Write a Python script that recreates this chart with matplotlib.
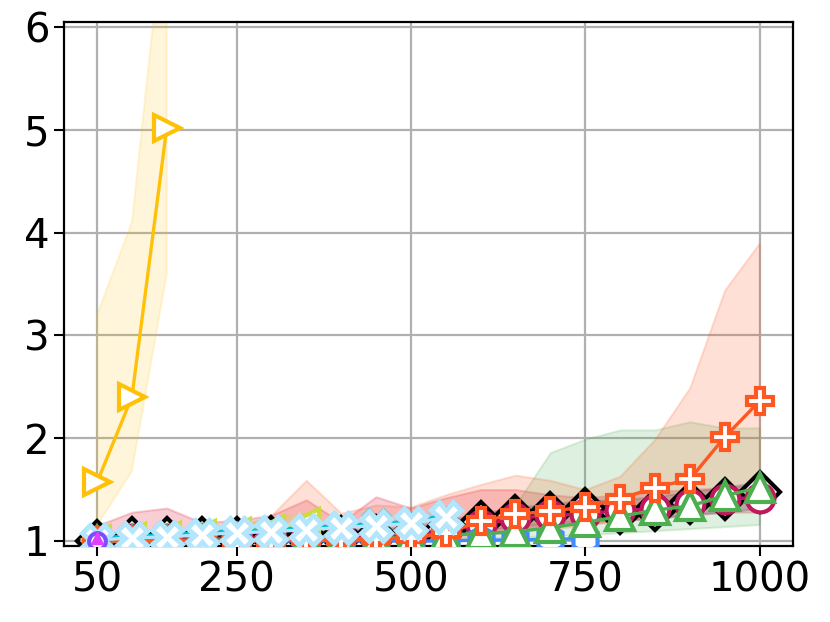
import matplotlib
matplotlib.use("Agg")
import matplotlib.pyplot as plt

# --- data ---
x_full = [50, 100, 150, 200, 250, 300, 350, 400, 450, 500,
          550, 600, 650, 700, 750, 800, 850, 900, 950, 1000]

# yellow, right triangles
yellow_y = [1.57, 2.40, 5.02]
yellow_lo = [1.15, 1.68, 3.60]
yellow_hi = [3.20, 4.10, 7.30]

# blue-grey, tri markers
grey_y = [1.00, 1.00, 1.00]
grey_lo = [0.98, 0.98, 0.98]
grey_hi = [1.03, 1.03, 1.03]

# lime, left triangles
lime_y = [1.02, 1.04, 1.05, 1.07, 1.09, 1.12, 1.18]
lime_lo = [1.00, 1.00, 1.01, 1.02, 1.03, 1.04, 1.06]
lime_hi = [1.08, 1.10, 1.12, 1.14, 1.17, 1.22, 1.28]

# light blue X
xl_y = [1.01, 1.03, 1.04, 1.06, 1.08, 1.09, 1.11, 1.13, 1.15, 1.17, 1.23]
xl_lo = [1.00, 1.00, 1.01, 1.02, 1.03, 1.04, 1.05, 1.06, 1.07, 1.08, 1.10]
xl_hi = [1.04, 1.06, 1.08, 1.10, 1.12, 1.14, 1.17, 1.20, 1.22, 1.25, 1.32]
cyan_y = [1.03, 1.05, 1.06, 1.08, 1.10, 1.11, 1.13, 1.15, 1.17, 1.19, 1.25]

# black diamonds
black_y = [1.00, 1.03, 1.03, 1.03, 1.03, 1.04, 1.04, 1.04, 1.05, 1.06,
           1.12, 1.18, 1.24, 1.27, 1.31, 1.27, 1.30, 1.37, 1.41, 1.48]
black_lo = [0.98, 1.00, 1.00, 1.00, 1.00, 1.01, 1.01, 1.01, 1.02, 1.03,
            1.06, 1.10, 1.14, 1.17, 1.20, 1.20, 1.22, 1.26, 1.28, 1.32]
black_hi = [1.05, 1.08, 1.08, 1.08, 1.08, 1.09, 1.10, 1.10, 1.12, 1.14,
            1.20, 1.27, 1.33, 1.36, 1.40, 1.40, 1.43, 1.48, 1.52, 1.58]

# blue dotted
blue_y = [0.99, 1.02, 1.02, 1.02, 1.02, 1.03, 1.03, 1.03, 1.04, 1.05,
          1.10, 1.16, 1.21, 1.25, 1.28, 1.30, 1.31, 1.36, 1.40, 1.45]

# crimson circles
crim_y = [1.00, 1.02, 1.02, 1.02, 1.03, 1.03, 1.03, 1.04, 1.04, 1.05,
          1.10, 1.16, 1.22, 1.25, 1.26, 1.30, 1.31, 1.36, 1.41, 1.42]
crim_lo = [0.98, 0.99, 0.99, 0.99, 1.00, 1.00, 1.00, 1.00, 1.00, 1.01,
           1.04, 1.08, 1.12, 1.15, 1.17, 1.20, 1.22, 1.25, 1.28, 1.28]
crim_hi = [1.15, 1.28, 1.32, 1.18, 1.20, 1.25, 1.40, 1.18, 1.43, 1.32,
           1.42, 1.50, 1.50, 1.45, 1.42, 1.45, 1.48, 1.50, 1.52, 1.55]

# blue hexagons
hex_y = [1.00, 1.00, 1.00, 1.00, 1.00, 1.00, 1.00, 1.00, 1.00, 1.00,
         1.00, 1.01, 1.01, 1.02, 1.02]

# green up triangles
green_y = [1.00, 1.00, 1.00, 1.01, 1.01, 1.01, 1.02, 1.02, 1.02, 1.04,
           1.06, 1.07, 1.09, 1.13, 1.18, 1.24, 1.30, 1.34, 1.44, 1.52]
green_lo = [0.98, 0.98, 0.98, 0.99, 0.99, 0.99, 1.00, 1.00, 1.00, 1.01,
            1.02, 1.03, 1.04, 1.05, 1.06, 1.08, 1.10, 1.12, 1.14, 1.16]
green_hi = [1.03, 1.03, 1.04, 1.05, 1.05, 1.06, 1.07, 1.08, 1.08, 1.10,
            1.12, 1.14, 1.35, 1.86, 1.99, 2.08, 2.08, 2.16, 2.10, 2.10]

# orange plus
orange_y = [1.00, 1.00, 1.00, 1.00, 1.00, 1.00, 1.01, 1.01, 1.02, 1.03,
            1.08, 1.19, 1.26, 1.29, 1.33, 1.41, 1.52, 1.60, 2.01, 2.36]
orange_lo = [0.98, 0.98, 0.98, 0.98, 0.98, 0.98, 0.99, 0.99, 1.00, 1.00,
             1.02, 1.05, 1.10, 1.12, 1.15, 1.20, 1.25, 1.30, 1.38, 1.45]
orange_hi = [1.05, 1.05, 1.08, 1.10, 1.12, 1.25, 1.59, 1.27, 1.35, 1.33,
             1.45, 1.55, 1.64, 1.59, 1.50, 1.63, 1.99, 2.49, 3.44, 3.90]

x_ticks = [50, 250, 500, 750, 1000]
y_ticks = [1, 2, 3, 4, 5, 6]

plt.rcParams['font.family'] = ['DejaVu Sans']
fig = plt.figure(figsize=(8.3, 6.22), dpi=100)
ax = fig.add_axes([0.077, 0.122, 0.878, 0.843])


def band(n, lo, hi, color, alpha, z):
    ax.fill_between(x_full[:n], lo, hi, color=color, alpha=alpha,
                    lw=1.5, zorder=z)


def series(n, y, color, marker, ms, z, ls='-', face='white', mew=3):
    ax.plot(x_full[:n], y, color=color, ls=ls, lw=2.4, marker=marker,
            ms=ms, mfc=face, mec=color, mew=mew, zorder=z)


# shaded bands
band(20, black_lo, black_hi, '#303F9F', 0.25, 1)
band(20, crim_lo, crim_hi, '#E53950', 0.25, 1)
band(20, green_lo, green_hi, '#4CAF50', 0.18, 1)
band(20, orange_lo, orange_hi, '#FF5722', 0.18, 1)
band(7, lime_lo, lime_hi, '#CDDC39', 0.2, 1)
band(11, xl_lo, xl_hi, '#81D4FA', 0.2, 1)
band(3, grey_lo, grey_hi, '#607D8B', 0.2, 1)
band(3, yellow_lo, yellow_hi, '#FFC107', 0.15, 1)

# lines and markers, back to front
series(20, black_y, 'black', 'D', 20, 3)
series(20, blue_y, '#0000FF', 'd', 10, 4, ls=':', face='#0000FF', mew=1)
series(20, crim_y, '#C2185B', 'o', 20, 5)
series(7, lime_y, '#CDDC39', '<', 19, 5)
series(3, grey_y, '#607D8B', '4', 22, 6)
series(15, hex_y, '#448AFF', 'h', 20, 6)
series(20, green_y, '#4CAF50', '^', 20, 7)
series(20, orange_y, '#FF5722', 'P', 19, 8)
series(11, cyan_y, '#00BCD4', 'X', 21, 9, face='#00BCD4', mew=1)
series(11, xl_y, '#B3E5FC', 'X', 21, 10, mew=3.5)
series(3, yellow_y, '#FFC107', '>', 19, 11)
series(1, [1.00], '#7C4DFF', 'o', 12, 12)
series(1, [1.03], '#E040FB', '^', 8, 12, face='#E040FB', mew=1)

ax.set_xlim(2.5, 1047.5)
ax.set_ylim(0.95, 6.05)
ax.set_xticks(x_ticks)
ax.set_yticks(y_ticks)
ax.tick_params(labelsize=29, width=1.5, length=7)
ax.grid(True, color='#b0b0b0', lw=1.6)
ax.set_axisbelow(True)
for s in ax.spines.values():
    s.set_linewidth(1.6)

fig.savefig('out.png', dpi=100)
